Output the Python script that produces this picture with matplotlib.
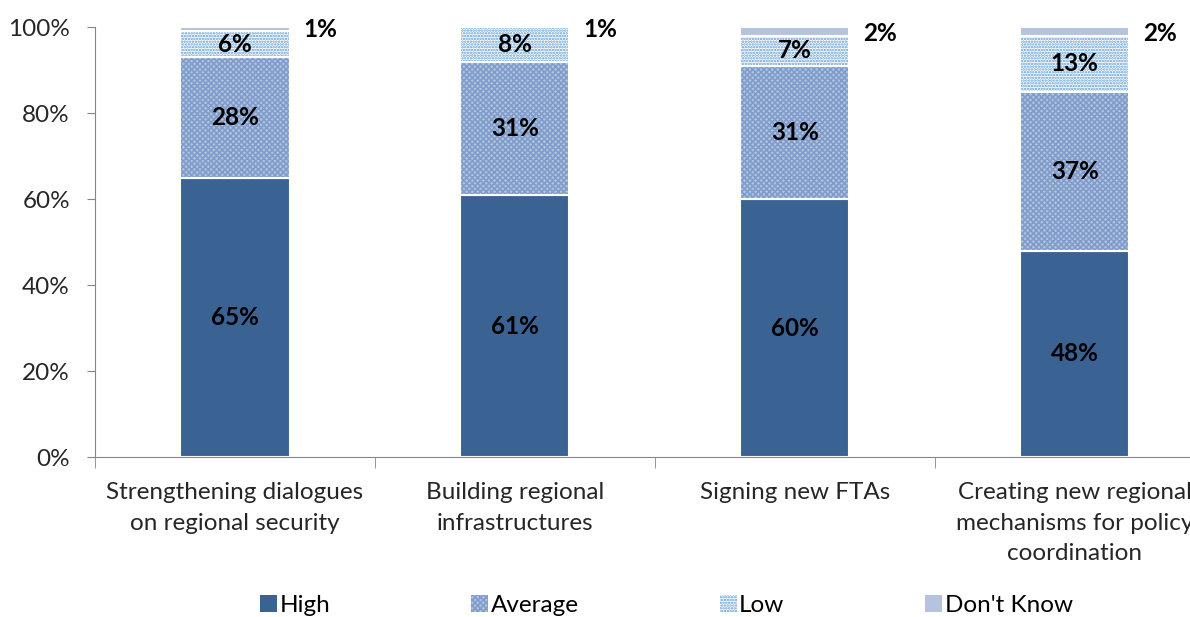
import numpy as np
import matplotlib.pyplot as plt

categories = ["Strengthening dialogues\non regional security",
              "Building regional\ninfrastructures",
              "Signing new FTAs",
              "Creating new regional\nmechanisms for policy\ncoordination"]
high = [65, 61, 60, 48]
average = [28, 31, 31, 37]
low = [6, 8, 7, 13]
dont_know = [1, 1, 2, 2]
series_names = ["High", "Average", "Low", "Don't Know"]

plt.rcParams['font.family'] = ['Lato', 'DejaVu Sans']
plt.rcParams['hatch.linewidth'] = 1.2

fig = plt.figure(figsize=(11.9, 6.17), dpi=100)
ax = fig.add_axes([0.0798, 0.259, 0.941, 0.697])

x = np.arange(len(categories))
w = 0.39
fs = 17.5

faces = ['#3A6394', '#B3C4DE', 'white', '#B4C3DE']
hatches = [None, 'xxxxxx', '......', None]
hcols = ['#3A6394', '#7F9CCB', '#5B9BD5', '#B4C3DE']

data = [high, average, low, dont_know]
bottom = np.zeros(len(categories))
handles = []
for vals, name, fc, h, hc in zip(data, series_names, faces, hatches, hcols):
    vals = np.array(vals, dtype=float)
    b = ax.bar(x, vals, w, bottom=bottom, color=fc, hatch=h, edgecolor=hc,
               linewidth=0, label=name)
    ax.bar(x, vals, w, bottom=bottom, fill=False, edgecolor='white', linewidth=1.5)
    handles.append(b)
    bottom += vals

# segment labels
bottom = np.zeros(len(categories))
for vals in data[:3]:
    for j, v in enumerate(vals):
        ax.text(x[j], bottom[j] + v / 2, f"{v}%", ha='center', va='center',
                fontsize=fs, fontweight='bold', color='black')
    bottom += np.array(vals)
for j, v in enumerate(dont_know):
    ax.text(x[j] + w / 2 + 0.05, 100 - (0.5 if v == 1 else 1.5), f"{v}%", ha='left', va='center',
            fontsize=fs, fontweight='bold', color='black')

ax.set_ylim(0, 100)
ax.set_xlim(-0.5, 3.5)
ax.set_yticks(np.arange(0, 101, 20))
ax.set_yticklabels([f"{t}%" for t in range(0, 101, 20)], fontsize=fs, color='#262626')
ax.set_xticks(x)
ax.set_xticklabels(categories, fontsize=fs, linespacing=1.55, color='#262626')
ax.set_xticks(np.arange(-0.5, 3.6, 1), minor=True)
ax.tick_params(axis='x', which='major', length=0, pad=18)
ax.tick_params(axis='x', which='minor', length=8, color='#868686', direction='out')
ax.tick_params(axis='y', length=6, color='#868686', pad=12)
for s in ['top', 'right']:
    ax.spines[s].set_visible(False)
for s in ['left', 'bottom']:
    ax.spines[s].set_color('#868686')

fig.legend(handles=handles, labels=series_names, loc='center', bbox_to_anchor=(0.56, 0.018),
           ncol=4, frameon=False, fontsize=fs, handlelength=0.7, handleheight=0.7,
           handletextpad=0.1, columnspacing=5.8)

fig.savefig('out.png', dpi=100)
